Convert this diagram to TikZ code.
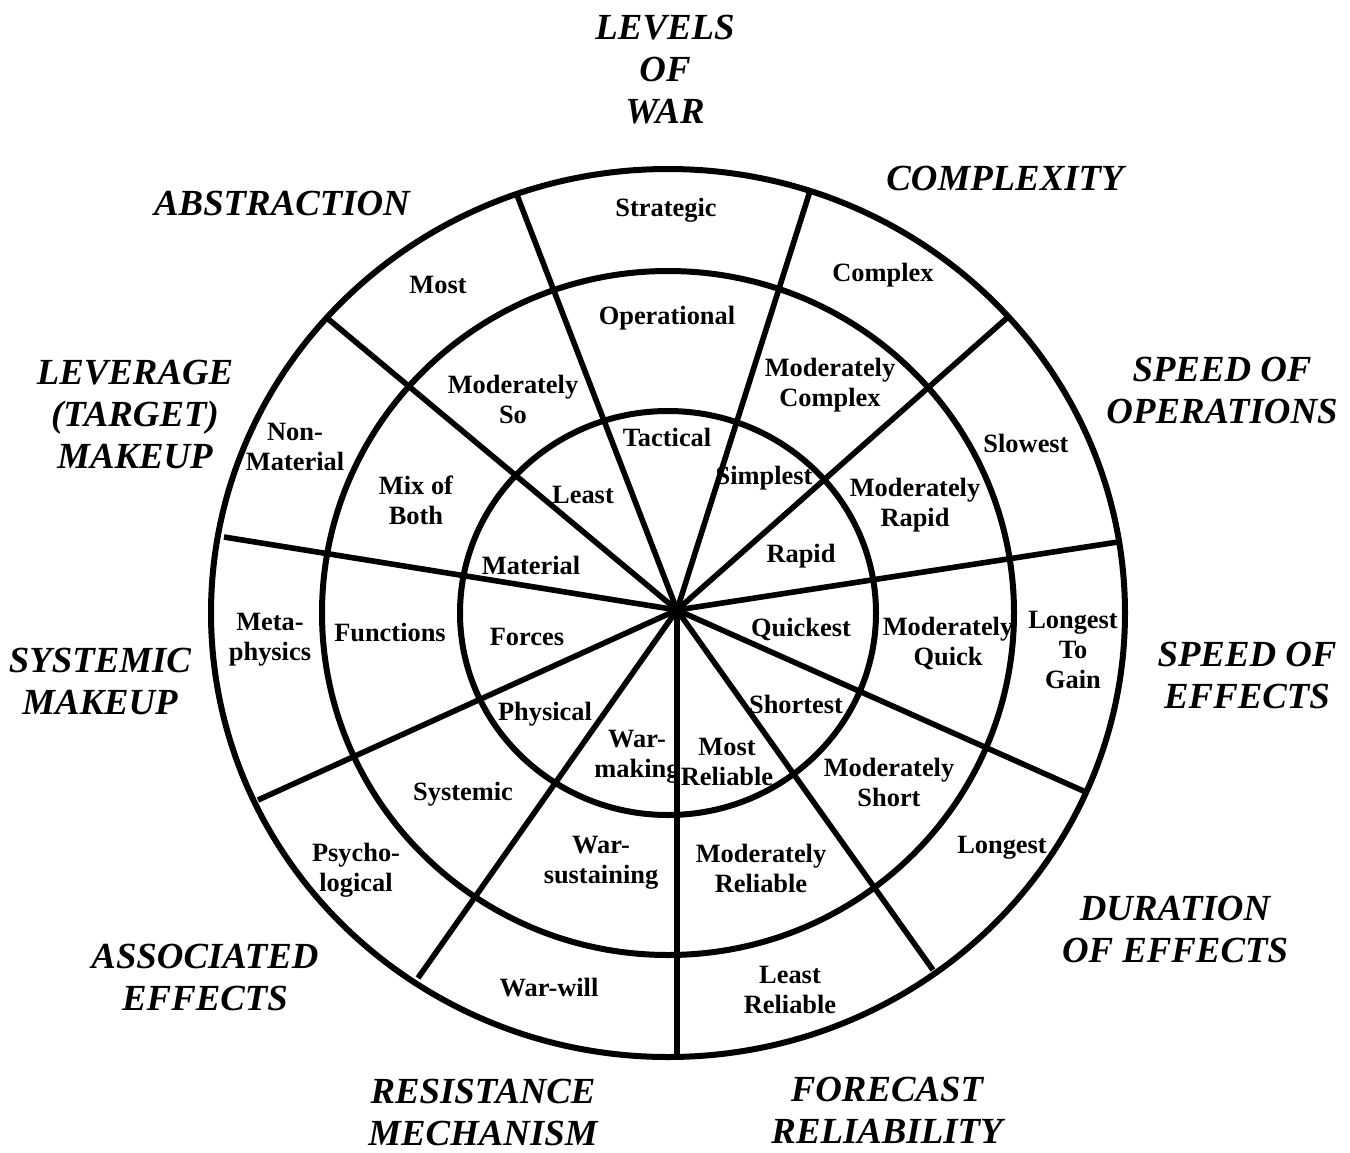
\documentclass[tikz,border=0pt]{standalone}
\usepackage{fontspec}
\setmainfont{Liberation Serif}
\begin{document}
\begin{tikzpicture}[x=0.5pt,y=-0.5pt,
  ring/.style={line width=3pt},
  spoke/.style={line width=2.8pt},
  lab/.style={font=\bfseries\fontsize{13.2}{15}\selectfont, align=center, inner sep=0pt},
  cat/.style={font=\bfseries\itshape\fontsize{18.4}{21}\selectfont, align=center, inner sep=0pt}]
\useasboundingbox (0,0) rectangle (1350,1152);
% circles
\coordinate (c) at (668,613);
\coordinate (hub) at (677,610);
\draw[ring] (c) ellipse [x radius=228.5pt, y radius=222pt];
\draw[ring] (c) ellipse [x radius=173pt, y radius=171pt];
\draw[ring] (c) ellipse [x radius=104pt, y radius=101pt];
% spokes
\coordinate (e1) at (517,195);
\coordinate (e2) at (810,191);
\coordinate (e3) at (1008,317);
\coordinate (e4) at (1118,542);
\coordinate (e5) at (1088,793);
\coordinate (e6) at (933,970);
\coordinate (e7) at (677,1060);
\coordinate (e8) at (418,978);
\coordinate (e9) at (258,800);
\coordinate (e10) at (224,537);
\coordinate (e11) at (327,318);
\foreach \e in {e1,e2,e3,e4,e5,e6,e7,e8,e9,e10,e11}
  \draw[spoke] (hub) -- (\e);
\fill (hub) circle [radius=2.5pt];
% category labels
\node[cat] (tLevels) at (665,70) {LEVELS\\OF\\WAR};
\node[cat] (tComplex) at (1005,178) {COMPLEXITY};
\node[cat] (tAbstr) at (282,203) {ABSTRACTION};
\node[cat] (tSpeedOps) at (1222,390) {SPEED OF\\OPERATIONS};
\node[cat] (tLever) at (135,414) {LEVERAGE\\(TARGET)\\MAKEUP};
\node[cat] (tSystemic) at (100,681) {SYSTEMIC\\MAKEUP};
\node[cat] (tSpeedEff) at (1247,675) {SPEED OF\\EFFECTS};
\node[cat] (tDuration) at (1175,929) {DURATION\\OF EFFECTS};
\node[cat] (tAssoc) at (205,977) {ASSOCIATED\\EFFECTS};
\node[cat] (tResist) at (483,1112) {RESISTANCE\\MECHANISM};
\node[cat] (tForecast) at (887,1110) {FORECAST\\RELIABILITY};
% sector labels
\node[lab] (l1) at (666,210) {Strategic};
\node[lab] (l2) at (667,318) {Operational};
\node[lab] (l3) at (667,437) {Tactical};
\node[lab] (l4) at (883,275) {Complex};
\node[lab] (l5) at (830,385) {Moderately\\Complex};
\node[lab] (l6) at (764,478) {Simplest};
\node[lab] (l7) at (1026,443) {Slowest};
\node[lab] (l8) at (915,505) {Moderately\\Rapid};
\node[lab] (l9) at (801,556) {Rapid};
\node[lab] (l10) at (1073,650) {Longest\\To\\Gain};
\node[lab] (l11) at (948,643) {Moderately\\Quick};
\node[lab] (l12) at (801,629) {Quickest};
\node[lab] (l13) at (1002,848) {Longest};
\node[lab] (l14) at (889,782) {Moderately\\Short};
\node[lab] (l15) at (796,704) {Shortest};
\node[lab] (l16) at (790,990) {Least\\Reliable};
\node[lab] (l17) at (761,868) {Moderately\\Reliable};
\node[lab] (l18) at (727,762) {Most\\Reliable};
\node[lab] (l19) at (549,988) {War-will};
\node[lab] (l20) at (601,863) {War-\\sustaining};
\node[lab] (l21) at (637,757) {War-\\making};
\node[lab] (l22) at (356,870) {Psycho-\\logical};
\node[lab] (l23) at (463,794) {Systemic};
\node[lab] (l24) at (545,714) {Physical};
\node[lab] (l25) at (270,640) {Meta-\\physics};
\node[lab] (l26) at (390,632) {Functions};
\node[lab] (l27) at (527,637) {Forces};
\node[lab] (l28) at (295,447) {Non-\\Material};
\node[lab] (l29) at (416,500) {Mix of\\Both};
\node[lab] (l30) at (531,565) {Material};
\node[lab] (l31) at (438,285) {Most};
\node[lab] (l32) at (513,399) {Moderately\\So};
\node[lab] (l33) at (583,495) {Least};
\end{tikzpicture}
\end{document}
